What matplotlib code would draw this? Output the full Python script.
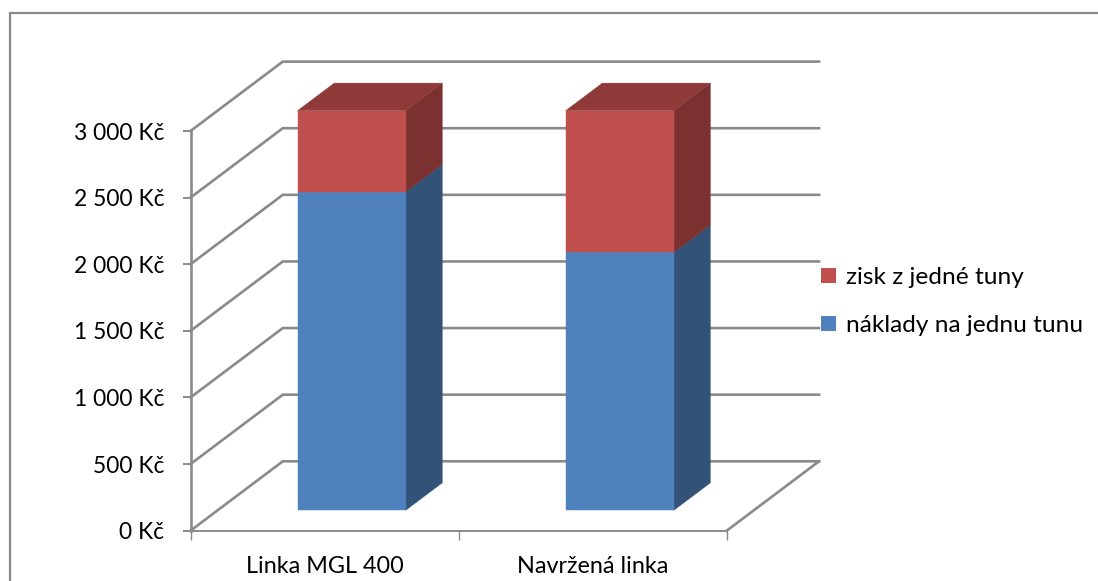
import matplotlib
matplotlib.use("Agg")
import matplotlib.pyplot as plt
from matplotlib.lines import Line2D
from matplotlib.patches import Patch, Polygon

categories = ["Linka MGL 400", "Navržená linka"]
costs = [2390, 1935]
profit = [610, 1065]
value_ticks = [0, 500, 1000, 1500, 2000, 2500, 3000]
value_labels = ["0 Kč", "500 Kč", "1 000 Kč", "1 500 Kč", "2 000 Kč", "2 500 Kč", "3 000 Kč"]
series_names = ["zisk z jedné tuny", "náklady na jednu tunu"]

W, H = 1098, 581
plt.rcParams["font.family"] = ["Lato", "DejaVu Sans"]
fig = plt.figure(figsize=(W / 100, H / 100), dpi=100, facecolor="white")

left, right, top, bottom = 190.5, 726.7, 131.0, 530.7
ax = fig.add_axes([left / W, 1 - bottom / H, (right - left) / W, (bottom - top) / H])
ax.set_xlim(0, 2)
ax.set_ylim(0, 3000)
ax.patch.set_alpha(0)

# Oblique projection: each unit of depth shifts a point right and upward.
DEPTH_X = 92.3 / ((right - left) / 2)
DEPTH_V = 69.4 / ((bottom - top) / 3000)


def project(x, v, d):
    return x + d * DEPTH_X, v + d * DEPTH_V


GRID = "#8a8a8a"
for v in value_ticks:
    xs, ys = zip(project(0, v, 0), project(0, v, 1), project(2, v, 1))
    ax.plot(xs, ys, color=GRID, lw=1.9, clip_on=False, zorder=1, solid_joinstyle="miter")
xs, ys = zip(project(2, 0, 0), project(2, 0, 1))
ax.plot(xs, ys, color=GRID, lw=1.9, clip_on=False, zorder=1)

BAR_W = 0.403
D0, D1 = 0.294, 0.69


def box(cat, v0, v1, front, side, top_col=None, order=3):
    x0, x1 = cat + 0.5 - BAR_W / 2, cat + 0.5 + BAR_W / 2
    faces = [
        ([(x1, v0, D0), (x1, v0, D1), (x1, v1, D1), (x1, v1, D0)], side),
        ([(x0, v0, D0), (x1, v0, D0), (x1, v1, D0), (x0, v1, D0)], front),
    ]
    if top_col:
        faces.append(([(x0, v1, D0), (x1, v1, D0), (x1, v1, D1), (x0, v1, D1)], top_col))
    for pts, col in faces:
        ax.add_patch(Polygon([project(*p) for p in pts], closed=True, facecolor=col,
                             edgecolor=col, lw=0.3, clip_on=False, zorder=order))


for i, (c, p) in enumerate(zip(costs, profit)):
    box(i, 0, c, "#4f81bd", "#325277")
    box(i, c, c + p, "#c0504d", "#7a3130", "#8f3a38", order=4)

for s in ("top", "right"):
    ax.spines[s].set_visible(False)
for s in ("left", "bottom"):
    ax.spines[s].set_color(GRID)
    ax.spines[s].set_zorder(2)
ax.spines["left"].set_linewidth(1.9)
ax.spines["bottom"].set_linewidth(1.4)

ax.set_yticks(value_ticks, value_labels)
ax.tick_params(axis="y", length=6, width=1.4, color=GRID, pad=13, labelsize=16.4, labelcolor="black")
for label in ax.get_yticklabels():
    label.set_verticalalignment("center_baseline")
ax.set_xticks([0, 1, 2], [])
ax.set_xticks([0.5, 1.5], categories, minor=True)
ax.tick_params(axis="x", which="major", length=6.5, width=1.0, color=GRID)
ax.tick_params(axis="x", which="minor", length=0, pad=18.5, labelsize=16.8, labelcolor="black")

handles = [Patch(facecolor="#c0504d", edgecolor="none"), Patch(facecolor="#4f81bd", edgecolor="none")]
fig.legend(handles, series_names, loc="upper left", bbox_to_anchor=(821.3 / W, 1 - 267 / H),
           bbox_transform=fig.transFigure, frameon=False, fontsize=17.6, borderpad=0, borderaxespad=0,
           handlelength=0.6, handleheight=0.6, handletextpad=0.4, labelspacing=1.1)

# Chart frame: only its top and left edges fall inside the image.
fig.add_artist(Line2D([9.5 / W, 9.5 / W, 1], [0, 1 - 12.5 / H, 1 - 12.5 / H], transform=fig.transFigure,
                      color=GRID, lw=1.6, solid_joinstyle="miter"))

fig.savefig("out.png", dpi=100, facecolor="white")
